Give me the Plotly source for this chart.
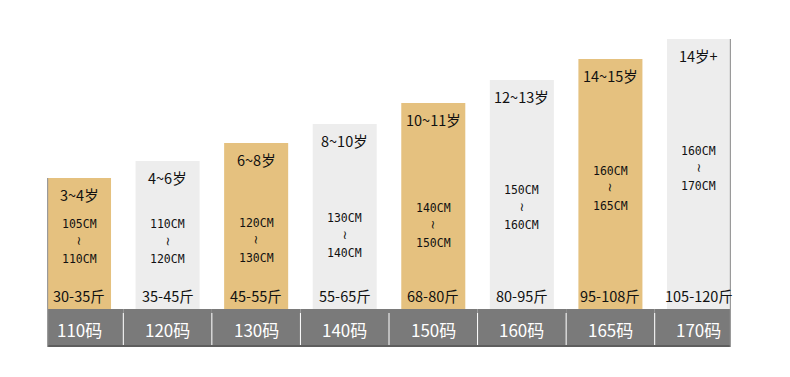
import plotly.graph_objects as go

sizes = ["110码", "120码", "130码", "140码", "150码", "160码", "165码", "170码"]
ages = ["3~4岁", "4~6岁", "6~8岁", "8~10岁", "10~11岁", "12~13岁", "14~15岁", "14岁+"]
height_lo = ["105CM", "110CM", "120CM", "130CM", "140CM", "150CM", "160CM", "160CM"]
height_hi = ["110CM", "120CM", "130CM", "140CM", "150CM", "160CM", "165CM", "170CM"]
weights = ["30-35斤", "35-45斤", "45-55斤", "55-65斤", "68-80斤", "80-95斤", "95-108斤", "105-120斤"]
bar_heights = [131, 148, 166, 185, 206, 229, 250, 270]

# layout helpers
mid_centers = [68, 68, 69, 74, 84, 102, 121, 141]
band_depth = 38
bar_w = 0.723
TAN = "#E5C17F"
GRAY = "#EDEDED"
BAND = "#7A7A7A"
x = list(range(len(sizes)))
colors = [TAN if i % 2 == 0 else GRAY for i in x]

fig = go.Figure()
fig.add_trace(go.Bar(x=x, y=bar_heights, width=bar_w, marker=dict(color=colors, line=dict(width=0)),
                     hoverinfo="skip", showlegend=False))
fig.add_trace(go.Bar(x=x, y=[band_depth] * len(x), base=[-band_depth] * len(x), width=1,
                     marker=dict(color=BAND, line=dict(width=0)), hoverinfo="skip", showlegend=False))

ann = []
txt = dict(family="Noto Sans CJK SC, sans-serif", color="#111111")
mono = dict(family="DejaVu Sans Mono, monospace", color="#111111")
for i in x:
    ann.append(dict(x=i, y=bar_heights[i] - 16, text=ages[i], showarrow=False,
                    font=dict(size=14.5, **txt)))
    c = mid_centers[i]
    ann.append(dict(x=i, y=c + 17.5, text=height_lo[i], showarrow=False, font=dict(size=11.5, **mono)))
    ann.append(dict(x=i, y=c, text="~", textangle=90, showarrow=False,
                    font=dict(size=12, family="DejaVu Sans, sans-serif", color="#111111")))
    ann.append(dict(x=i, y=c - 17.5, text=height_hi[i], showarrow=False, font=dict(size=11.5, **mono)))
    ann.append(dict(x=i, y=14, text=weights[i], showarrow=False, font=dict(size=14.5, **txt)))
    ann.append(dict(x=i, y=-band_depth / 2 - 1, text=sizes[i], showarrow=False,
                    font=dict(size=17, family="Noto Sans CJK SC, sans-serif", color="white")))

shapes = []
for i in x[:-1]:
    shapes.append(dict(type="line", x0=i + 0.5, x1=i + 0.5, y0=-4, y1=-band_depth + 2,
                       line=dict(color="white", width=1), layer="above"))
xmin = -bar_w / 2
xmax = len(x) - 1 + bar_w / 2
shapes.append(dict(type="line", x0=xmin, x1=xmax, y0=-band_depth + 1, y1=-band_depth + 1,
                   line=dict(color="#5E5E5E", width=2), layer="above"))
shapes.append(dict(type="line", x0=xmin + 0.005, x1=xmin + 0.005, y0=bar_heights[0], y1=-band_depth,
                   line=dict(color="#9A9A9A", width=1.5), layer="above"))
shapes.append(dict(type="line", x0=xmax - 0.005, x1=xmax - 0.005, y0=bar_heights[-1], y1=-band_depth,
                   line=dict(color="#9A9A9A", width=1.5), layer="above"))

fig.update_layout(
    width=790, height=377,
    margin=dict(l=47, r=59, t=39, b=30),
    paper_bgcolor="white", plot_bgcolor="white",
    barmode="overlay",
    xaxis=dict(range=[xmin, xmax], visible=False, fixedrange=True),
    yaxis=dict(range=[-band_depth, max(bar_heights)], visible=False, fixedrange=True),
    annotations=ann, shapes=shapes,
)
fig.write_html("out.html")
